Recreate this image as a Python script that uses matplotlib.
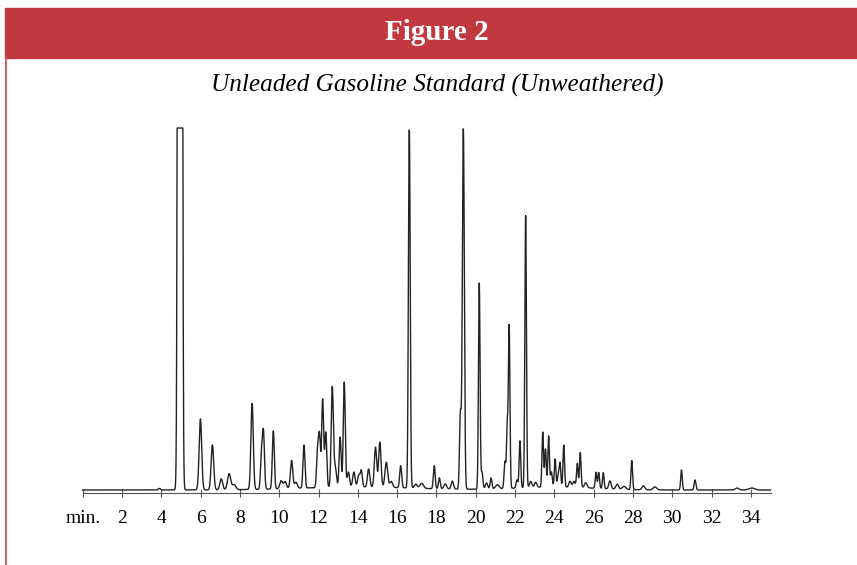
import numpy as np
import matplotlib.pyplot as plt
from matplotlib.patches import Rectangle
from matplotlib.lines import Line2D

plt.rcParams['font.family'] = ['Liberation Serif', 'DejaVu Serif']

# peaks: retention time (min), height (full scale = 362), width (min)
peak_times = [3.90, 4.95, 5.99, 6.60, 7.05, 7.45, 7.70, 8.62, 9.10, 9.20,
              9.70, 10.10, 10.30, 10.63, 10.85, 11.26, 11.95, 12.05, 12.21, 12.37,
              12.70, 12.85, 13.10, 13.31, 13.52, 13.80, 14.05, 14.18, 14.55, 14.90,
              15.12, 15.45, 15.70, 16.18, 16.62, 16.95, 17.25, 17.89, 18.15, 18.45,
              18.81, 19.22, 19.37, 20.18, 20.32, 20.55, 20.78, 21.10, 21.49, 21.60,
              21.70, 22.10, 22.25, 22.54, 22.80, 23.05, 23.41, 23.55, 23.71, 23.85,
              24.04, 24.20, 24.29, 24.48, 24.80, 25.00, 25.17, 25.32, 25.60, 26.12,
              26.26, 26.49, 26.83, 27.20, 27.55, 27.94, 28.53, 29.12, 30.47, 31.16,
              33.30, 34.05, 14.00, 24.00]
peak_heights = [1.5, 8000, 71, 45, 11, 16, 5, 86, 35, 55,
                58, 8, 7, 28, 6, 43, 35, 50, 88, 55,
                100, 20, 50, 105, 15, 15, 12, 16, 18, 40,
                45, 25, 6, 22, 358, 4, 5, 23, 11, 5,
                8, 75, 360, 206, 17, 6, 11, 4, 27, 60,
                163, 8, 47, 272, 6, 5, 55, 38, 51, 15,
                28, 12, 23, 42, 6, 6, 24, 35, 5, 16,
                16, 16, 8, 5, 3, 29, 4, 3, 20, 10,
                2, 2, 3, 3]
peak_widths = [0.06, 0.06, 0.065, 0.065, 0.07, 0.08, 0.09, 0.06, 0.05, 0.05,
               0.05, 0.07, 0.07, 0.06, 0.07, 0.05, 0.05, 0.05, 0.05, 0.05,
               0.055, 0.06, 0.05, 0.05, 0.06, 0.06, 0.06, 0.05, 0.06, 0.06,
               0.06, 0.07, 0.07, 0.05, 0.045, 0.07, 0.09, 0.045, 0.045, 0.07,
               0.06, 0.045, 0.05, 0.04, 0.045, 0.06, 0.045, 0.09, 0.045, 0.035,
               0.04, 0.045, 0.04, 0.04, 0.06, 0.06, 0.04, 0.04, 0.04, 0.045,
               0.04, 0.045, 0.04, 0.04, 0.06, 0.06, 0.04, 0.04, 0.07, 0.04,
               0.04, 0.04, 0.06, 0.07, 0.09, 0.04, 0.07, 0.09, 0.04, 0.045,
               0.09, 0.15, 3.0, 2.0]
full_scale = 362

tick_values = list(range(0, 36, 2))
tick_labels = ['min.'] + [str(v) for v in tick_values[1:]]

title = 'Figure 2'
subtitle = 'Unleaded Gasoline Standard (Unweathered)'

t = np.linspace(0, 35, 7001)
signal = np.zeros_like(t)
for c, h, w in zip(peak_times, peak_heights, peak_widths):
    signal += h * np.exp(-0.5 * ((t - c) / w) ** 2)
signal = np.minimum(signal, full_scale)

fig = plt.figure(figsize=(8.57, 5.65), dpi=100)
W, H = 857, 565

# header band and left border
fig.patches.append(Rectangle((5 / W, 1 - 58 / H), 1, 50 / H, transform=fig.transFigure,
                             color='#C1393F', zorder=0))
fig.lines.append(Line2D([5.5 / W, 5.5 / W], [0, 1 - 58 / H], transform=fig.transFigure,
                        color='#D65A60', lw=1.4))
fig.text(437 / W, 1 - 33 / H, title, color='white', fontsize=21, fontweight='bold',
         ha='center', va='center')
fig.text(437 / W, 1 - 85 / H, subtitle, fontsize=18.2, style='italic',
         ha='center', va='center')

ax = fig.add_axes([82.7 / W, 1 - 498 / H, (770.5 - 82.7) / W, (498 - 128) / H])
ax.plot(t, signal, color='#222222', lw=1.0, clip_on=False)
ax.set_xlim(0, 35)
ax.set_ylim(-8, full_scale)

for s in ['top', 'right', 'left']:
    ax.spines[s].set_visible(False)
ax.spines['bottom'].set_position(('data', -3))
ax.spines['bottom'].set_color('#555555')
ax.spines['bottom'].set_linewidth(0.8)
ax.set_yticks([])
ax.set_xticks(tick_values)
ax.set_xticklabels(tick_labels)
ax.tick_params(axis='x', direction='inout', length=6, width=0.8, color='#555555',
               labelsize=14, pad=9.5)

fig.savefig('out.png', dpi=100)
